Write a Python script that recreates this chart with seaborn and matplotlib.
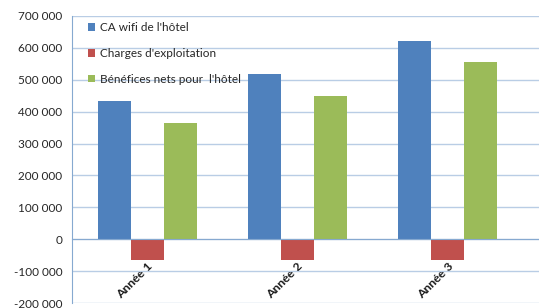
import matplotlib
matplotlib.use("Agg")
import matplotlib.pyplot as plt
import seaborn as sns
import pandas as pd
from matplotlib.ticker import FuncFormatter

categories = ["Année 1", "Année 2", "Année 3"]
series_names = ["CA wifi de l'hôtel", "Charges d'exploitation", "Bénéfices nets pour  l'hôtel"]
ca_wifi = [434000, 519000, 622000]
charges = [-65000, -65000, -65000]
benefices = [366000, 450000, 556000]
colors = ["#4F81BD", "#C0504D", "#9BBB59"]

rows = []
for name, vals in zip(series_names, [ca_wifi, charges, benefices]):
    for c, v in zip(categories, vals):
        rows.append({"cat": c, "serie": name, "val": v})
df = pd.DataFrame(rows)

sns.set_style("white")
plt.rcParams['font.family'] = ['Lato', 'DejaVu Sans']

fig = plt.figure(figsize=(5.39, 3.08), dpi=100)
ax = fig.add_axes([72/539, 5/308, 1 - 72/539, 287/308])

sns.barplot(data=df, x="cat", y="val", hue="serie", palette=colors,
            width=0.66, saturation=1, ax=ax, edgecolor="none", legend=True)

ax.set_ylim(-200000, 700000)
ax.set_xlim(-0.5, 2.61)
ax.set_yticks(range(-200000, 700001, 100000))
ax.yaxis.set_major_formatter(FuncFormatter(lambda v, p: f"{int(v):,}".replace(",", " ")))
ax.grid(axis="y", color="#B9CDE5", linewidth=1)
ax.set_axisbelow(True)
ax.set_xlabel("")
ax.set_ylabel("")

for s in ["top", "right"]:
    ax.spines[s].set_visible(False)
ax.spines["left"].set_color("#86A9D0")
ax.spines["bottom"].set_color("#86A9D0")
ax.spines["bottom"].set_position(("data", 0))

ax.tick_params(axis="y", length=4, color="#86A9D0", labelsize=8.5, labelcolor="#262626", pad=3)
ax.set_xticks(range(len(categories)))
ax.set_xticklabels(categories, rotation=45, ha="right", rotation_mode="anchor",
                   fontsize=8.8, fontweight="bold", color="#1a1a1a")
ax.tick_params(axis="x", length=0, pad=15)
ax.set_xticks([0.5, 1.5], minor=True)
ax.tick_params(axis="x", which="minor", length=4, direction="inout", color="#86A9D0")

leg = ax.legend(loc="upper left", bbox_to_anchor=(0.025, 0.995), frameon=False,
                fontsize=8.5, handlelength=0.6, handleheight=0.6, handletextpad=0.4,
                labelspacing=1.25, borderaxespad=0)
for t in leg.get_texts():
    t.set_color("#262626")

fig.savefig("out.png", dpi=100)
